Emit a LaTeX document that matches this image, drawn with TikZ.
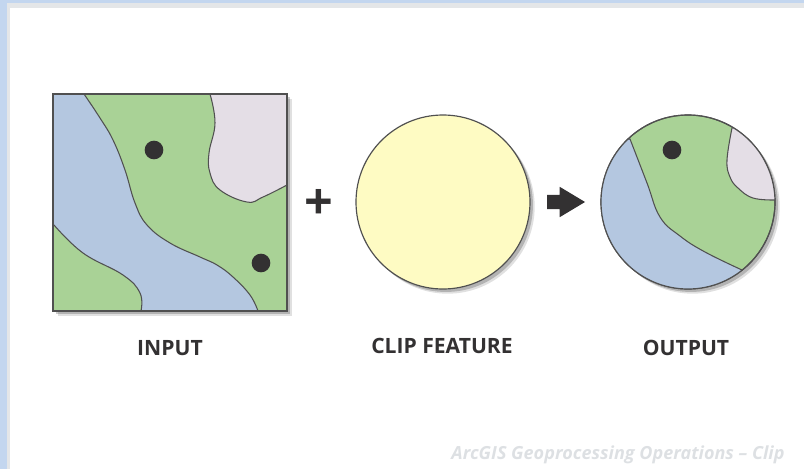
\documentclass[tikz,border=0pt]{standalone}
\usepackage{fontspec}
\setmainfont{Open Sans}
\usetikzlibrary{shadows,shapes.arrows}
\definecolor{ink}{HTML}{333132}
\definecolor{edge}{HTML}{505050}
\definecolor{land}{HTML}{A9D296}
\definecolor{water}{HTML}{B4C7E0}
\definecolor{urban}{HTML}{E4DEE6}
\definecolor{clipfill}{HTML}{FEFBC3}
\definecolor{chrome}{HTML}{C3D6EF}
\definecolor{chromeedge}{HTML}{E4E6E8}
\definecolor{faint}{HTML}{DDE0E3}
\tikzset{
    softshadow/.style = {general shadow={shadow xshift=4pt,
                    shadow yshift=-4pt,
                    fill=black,
                    opacity=0.12},
                    general shadow={shadow xshift=2.5pt,
                    shadow yshift=-2.5pt,
                    fill=black,
                    opacity=0.2}},
    sheet/.style = {rectangle,
                    draw=edge,
                    line width=1pt,
                    inner sep=0pt,
                    minimum width=7.02cm,
                    minimum height=6.51cm},
    disc/.style = {circle,
                    draw=edge,
                    line width=1pt,
                    inner sep=0pt,
                    minimum size=5.22cm},
    region/.style = {draw=edge,
                    line width=0.9pt},
    point/.style = {circle,
                    fill=ink,
                    inner sep=0pt,
                    minimum size=0.56cm},
    caption/.style = {text=ink,
                    font=\fontsize{18}{20}\selectfont\bfseries},
    plus/.style = {text=ink,
                    inner sep=0pt,
                    font=\fontsize{43}{45}\selectfont\bfseries},
    towards/.style = {single arrow,
                    fill=ink,
                    inner sep=0pt,
                    text height=0.42cm,
                    text depth=0cm,
                    minimum height=1.14cm,
                    single arrow tip angle=62,
                    single arrow head extend=0.24cm,
                    single arrow head indent=0cm},
    credit/.style = {text=faint,
                    font=\fontsize{15.4}{17}\selectfont\bfseries\itshape}
}
\begin{document}
\begin{tikzpicture}[x=0.03cm,y=-0.03cm]
            \useasboundingbox (0,0) rectangle (804,469);
            % window edge
            \fill[chromeedge] (0,0) rectangle (804,8);
            \fill[chromeedge] (0,0) rectangle (10,469);
            \fill[chrome] (0,0) rectangle (804,3);
            \fill[chrome] (0,0) rectangle (7,469);

            % input map
            \node[sheet,fill=land,softshadow] (input) at (170,202.5) {};
            \begin{scope}
                \clip (53,94) rectangle (287,311);
                \filldraw[region,fill=water] plot[smooth,tension=0.7] coordinates {(84,94) (100,118) (113,140) (125,170) (135,203) (147,225) (170,243) (200,257) (217,265) (233,277) (250,295) (258,311)}
                    -- plot[smooth,tension=0.7] coordinates {(141,311) (140,293) (123,275) (83,253) (54,225)}
                    -- (50,222) -- (50,90) -- cycle;
                \filldraw[region,fill=urban] plot[smooth,tension=0.7] coordinates {(210,94) (215,123) (209,153) (210,173) (220,190) (247,202) (263,197) (287,185)}
                    -- (290,185) -- (290,90) -- (210,90) -- cycle;
            \end{scope}
            \node[sheet] (inputframe) at (170,202.5) {};
            \node[point] (welltop) at (154,150) {};
            \node[point] (wellbottom) at (261,263) {};

            % clip feature
            \node[plus] (add) at (319,204) {+};
            \node[disc,fill=clipfill,softshadow] (clipper) at (443,202) {};

            % output map
            \node[towards] (result) at (560,202) {};
            \node[disc,fill=land,softshadow] (output) at (688,202) {};
            \begin{scope}
                \clip (688,202) circle (87);
                \filldraw[region,fill=water] plot[smooth,tension=0.7] coordinates {(630,139) (647,183) (660,217) (680,236) (705,252) (742,270)}
                    -- (742,295) -- (595,295) -- (595,139) -- cycle;
                \filldraw[region,fill=urban] plot[smooth,tension=0.7] coordinates {(732,128) (727,160) (730,177) (738,188) (753,198) (775,200)}
                    -- (780,200) -- (780,120) -- cycle;
            \end{scope}
            \node[disc] (outputframe) at (688,202) {};
            \node[point] (wellout) at (672,150) {};

            % labels
            \node[caption] (inputlabel) at (170,348) {INPUT};
            \node[caption] (cliplabel) at (442,346) {CLIP FEATURE};
            \node[caption] (outputlabel) at (686,348) {OUTPUT};
            \node[credit] (creditline) at (618,455) {ArcGIS Geoprocessing Operations – Clip};
\end{tikzpicture}
\end{document}
